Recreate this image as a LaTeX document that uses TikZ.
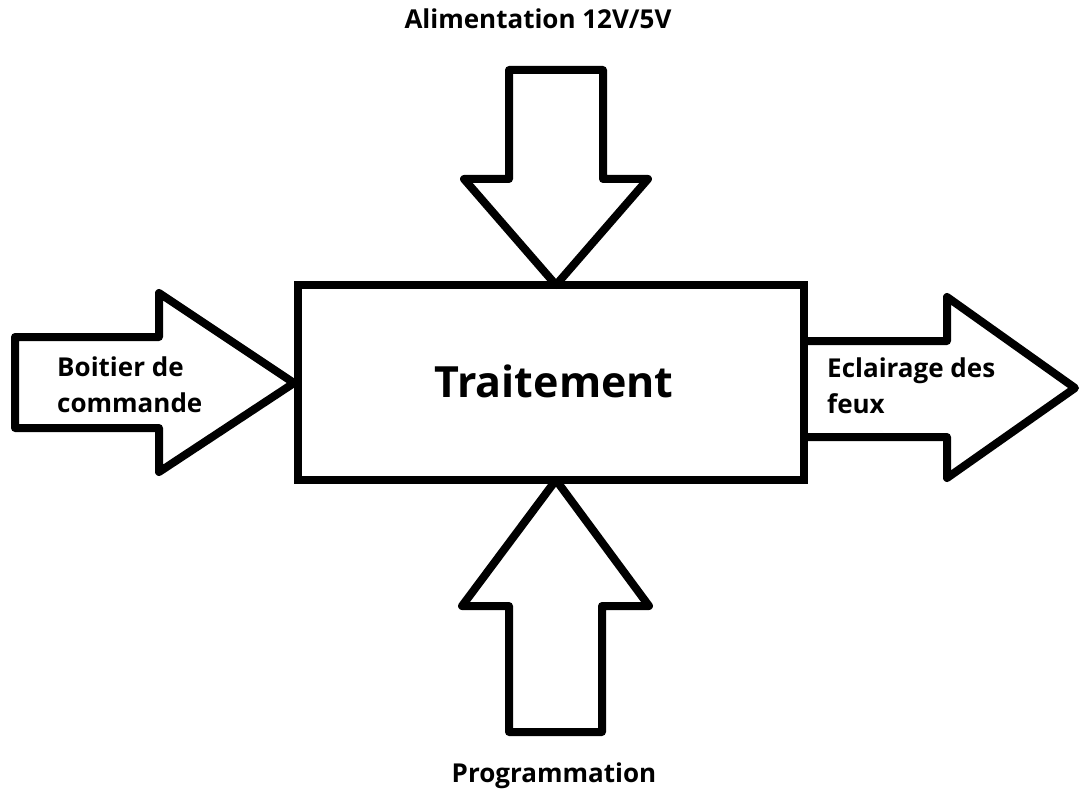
\documentclass[tikz,border=0pt]{standalone}
\usepackage{fontspec}
\setmainfont{Open Sans}
\begin{document}
\begin{tikzpicture}[x=1pt,y=-1pt,
  outline/.style={draw=black, line width=8pt, line join=round, fill=white},
  lbl/.style={font=\bfseries\fontsize{26}{36}\selectfont, align=left, inner sep=0pt},
  title/.style={font=\bfseries\fontsize{43}{50}\selectfont, inner sep=0pt},
]
\useasboundingbox (0,0) rectangle (1080,789);

% central processing block
\node[draw=black, line width=8pt, minimum width=506pt, minimum height=195pt,
      inner sep=0pt] (box) at (551,382.5) {};
\node[title, anchor=base] (boxtext) at (554,397) {Traitement};

% tip points of the four block arrows
\coordinate (ptop) at (556,285);
\coordinate (pbot) at (556,480);
\coordinate (pleft) at (294,383);
\coordinate (pright) at (1075,388);

% power supply arrow (down into the block)
\draw[outline] (509,70) -- (603,70) -- (603,179) -- (648,179) -- (ptop)
  -- (464,179) -- (509,179) -- cycle;

% programming arrow (up into the block)
\draw[outline] (509,732) -- (602,732) -- (602,606) -- (649,606) -- (pbot)
  -- (462,606) -- (509,606) -- cycle;

% control box arrow (right into the block)
\draw[outline] (15,337) -- (159,337) -- (159,293) -- (pleft)
  -- (159,472) -- (159,428) -- (15,428) -- cycle;

% lights output arrow (out of the block)
\draw[outline] (box.east |- 0,341) -- (947,341) -- (947,297) -- (pright)
  -- (947,478) -- (947,437) -- (box.east |- 0,437);

% labels (multi-line nodes sit on the baseline of their last line)
\node[lbl, anchor=base] (alim) at (538,29) {Alimentation 12V/5V};
\node[lbl, anchor=base] (prog) at (554,782) {Programmation};
\node[lbl, anchor=base west] (cmd) at (57,412) {Boitier de\\commande};
\node[lbl, anchor=base west] (feux) at (827,413) {Eclairage des\\feux};
\end{tikzpicture}
\end{document}
